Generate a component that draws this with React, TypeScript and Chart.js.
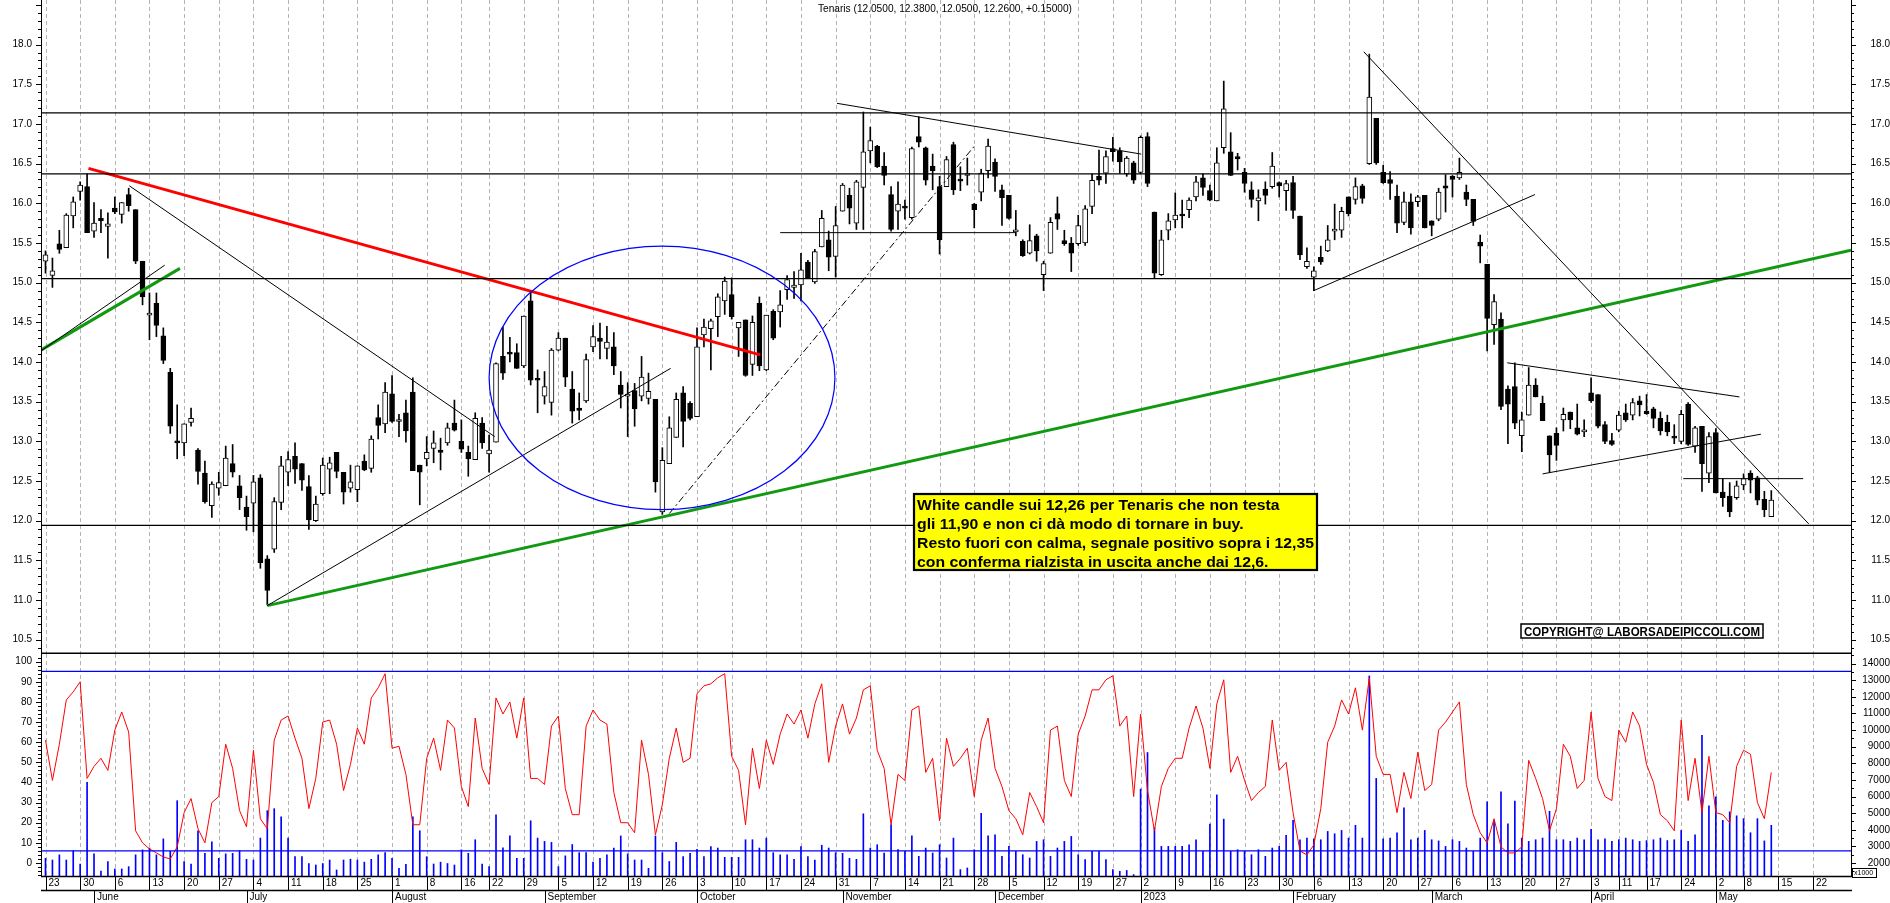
import React, { useEffect, useRef } from 'react';
import { Chart, registerables } from 'chart.js';

Chart.register(...registerables);

const FONT = '"Liberation Sans", Arial, Helvetica, sans-serif';

// ---------- DATA ----------
const OPEN = [
15.27,15.09,15.49,15.44,15.84,16.15,16.21,15.65,15.81,15.71,
15.94,15.86,16.11,15.92,15.27,14.59,14.74,14.33,13.87,13.00,
12.98,13.24,12.89,12.60,12.19,12.41,12.44,12.72,12.44,12.17,
12.22,12.54,11.52,11.64,12.23,12.61,12.81,12.72,12.43,12.00,
12.34,12.65,12.86,12.61,12.41,12.39,12.75,12.66,13.30,13.22,
13.60,13.25,13.36,13.62,12.70,12.78,12.91,12.89,12.98,13.23,
13.00,12.86,12.77,13.23,12.84,12.99,14.07,14.11,14.12,13.95,
14.77,13.79,13.57,13.49,14.15,14.30,13.66,13.42,13.51,14.19,
14.30,14.17,14.19,13.71,13.57,13.64,13.57,13.54,13.53,12.11,
12.72,13.05,13.61,13.48,13.31,14.34,14.42,14.57,14.77,14.85,
14.43,14.53,13.97,14.74,13.90,14.64,14.63,14.91,14.94,14.97,
15.26,15.01,15.45,15.54,15.33,15.90,16.10,15.75,16.20,16.66,
16.72,16.47,16.11,15.90,15.96,15.82,16.84,16.70,16.47,16.21,
16.21,16.74,16.30,16.35,15.99,16.14,16.41,16.52,16.17,16.10,
15.64,15.52,15.37,15.59,15.10,15.37,15.87,15.53,15.50,15.49,
15.50,15.96,16.34,16.38,16.69,16.66,16.37,16.51,16.39,16.84,
15.89,15.10,15.66,15.79,15.85,15.92,16.08,16.32,16.16,16.03,
16.70,16.65,16.59,16.39,16.17,16.03,16.18,16.21,16.26,16.16,
16.26,15.84,15.20,15.07,15.32,15.40,15.65,15.66,16.08,16.05,
16.22,16.50,17.07,16.39,16.30,16.09,15.76,16.02,16.02,16.10,
15.78,15.80,16.22,16.34,16.32,16.14,16.05,15.51,15.23,14.47,
14.54,13.66,13.69,13.07,13.33,13.71,13.48,13.07,13.10,13.27,
13.37,13.17,13.12,13.61,13.59,13.21,13.01,13.14,13.36,13.33,
13.51,13.38,13.41,13.29,13.24,13.06,13.00,13.47,12.94,13.19,
12.60,13.11,12.36,12.31,12.29,12.45,12.60,12.54,12.27,12.05
];
const HIGH = [
15.40,15.31,15.66,15.87,16.08,16.27,16.37,16.01,15.92,15.88,
16.08,16.01,16.19,15.92,15.27,14.87,14.87,14.43,13.92,13.46,
13.22,13.42,12.91,12.75,12.49,12.61,12.94,12.96,12.57,12.31,
12.57,12.58,11.56,12.29,12.81,12.87,12.98,12.72,12.57,12.31,
12.79,12.80,12.86,12.61,12.70,12.69,12.83,13.07,13.46,13.74,
13.83,13.34,13.52,13.80,12.70,13.06,13.13,13.04,13.23,13.52,
13.27,12.94,13.36,13.30,13.08,13.99,14.44,14.31,14.23,14.58,
14.88,13.90,13.88,14.17,14.37,14.30,13.88,13.61,14.10,14.46,
14.49,14.45,14.37,13.88,13.74,13.73,14.07,13.86,13.53,12.92,
13.31,13.61,13.69,13.50,14.43,14.54,14.54,14.86,15.07,15.06,
14.50,14.53,14.58,14.82,14.59,14.66,14.90,15.09,15.14,15.37,
15.28,15.42,15.91,15.65,15.96,16.25,16.19,16.29,17.15,16.96,
16.73,16.64,16.21,16.27,16.04,16.71,17.09,16.71,16.62,16.34,
16.59,16.77,16.46,16.57,16.00,16.43,16.81,16.56,16.23,16.10,
15.91,15.54,15.73,15.61,15.27,15.82,16.08,15.66,15.57,15.85,
15.97,16.37,16.67,16.66,16.83,16.70,16.59,16.53,16.85,16.89,
15.89,15.66,15.87,16.13,16.04,16.07,16.34,16.37,16.23,16.70,
17.54,16.89,16.63,16.44,16.27,16.17,16.27,16.64,16.27,16.29,
16.34,15.84,15.44,15.20,15.46,15.72,15.99,15.95,16.08,16.32,
16.24,17.88,17.07,16.48,16.40,16.23,16.14,16.12,16.10,16.10,
15.78,16.19,16.36,16.35,16.57,16.23,16.05,15.60,15.23,14.85,
14.62,13.70,13.99,13.37,13.93,13.79,13.57,13.07,13.17,13.42,
13.37,13.47,13.27,13.80,13.59,13.25,13.10,13.38,13.47,13.54,
13.57,13.59,13.43,13.37,13.33,13.21,13.39,13.49,13.19,13.19,
13.11,13.16,12.53,12.48,12.50,12.59,12.63,12.56,12.37,12.38
];
const LOW = [
15.12,14.94,15.37,15.44,15.69,16.04,15.63,15.57,15.63,15.31,
15.87,15.75,15.90,15.24,14.72,14.28,14.32,13.98,13.10,12.78,
12.82,13.19,12.46,12.22,12.04,12.32,12.44,12.55,12.14,11.88,
11.86,11.40,10.94,11.60,12.14,12.44,12.47,12.38,11.89,11.99,
12.32,12.34,12.54,12.21,12.36,12.24,12.63,12.61,13.03,13.11,
13.24,13.06,12.99,12.63,12.20,12.69,12.73,12.64,12.95,13.13,
12.86,12.56,12.77,12.91,12.61,12.99,13.78,14.00,13.92,13.93,
13.71,13.36,13.47,13.33,14.14,13.69,13.23,13.27,13.49,14.13,
14.04,14.04,13.84,13.42,13.06,13.19,13.51,13.47,12.36,12.08,
12.72,13.05,12.93,13.27,13.31,14.19,13.90,14.32,14.60,14.54,
14.07,13.82,13.83,13.89,13.89,14.28,14.44,14.79,14.80,14.77,
15.05,14.99,15.45,15.15,15.07,15.90,15.74,15.67,15.67,16.51,
16.45,16.23,15.65,15.67,15.80,15.80,16.71,16.23,16.17,15.36,
16.21,16.11,16.16,16.23,15.69,16.03,16.32,16.15,15.72,15.80,
15.59,15.33,15.36,15.27,14.90,15.37,15.67,15.47,15.14,15.47,
15.47,15.87,16.23,16.25,16.53,16.38,16.34,16.25,16.37,16.21,
15.06,15.09,15.54,15.69,15.69,15.82,16.03,16.10,16.03,16.03,
16.63,16.35,16.42,16.14,15.95,15.78,15.99,16.19,16.08,15.91,
15.81,15.29,15.18,14.90,15.23,15.39,15.54,15.57,15.84,15.99,
16.00,16.49,16.49,16.25,16.05,15.63,15.73,15.61,15.96,15.69,
15.59,15.78,15.89,16.08,16.30,15.97,15.72,15.25,14.14,14.22,
13.40,12.97,13.16,12.87,13.33,13.56,13.26,12.61,12.76,13.13,
13.16,13.08,13.06,13.49,13.17,12.97,12.95,13.12,13.25,13.27,
13.32,13.34,13.17,13.08,13.07,12.97,12.97,12.95,12.86,12.37,
12.48,12.35,12.18,12.05,12.27,12.39,12.35,12.20,12.05,12.05
];
const CLOSE = [
15.35,15.15,15.42,15.85,16.02,16.23,15.63,15.75,15.78,15.74,
15.89,16.01,15.97,15.27,14.82,14.59,14.46,14.02,13.19,12.98,
13.22,13.29,12.62,12.24,12.46,12.48,12.79,12.61,12.29,12.05,
12.49,11.47,11.12,12.24,12.69,12.77,12.65,12.51,12.01,12.21,
12.70,12.73,12.62,12.36,12.49,12.69,12.64,13.03,13.20,13.62,
13.25,13.27,13.13,12.63,12.61,12.86,12.98,12.86,13.17,13.14,
12.90,12.78,13.29,12.98,12.89,13.98,13.86,14.10,13.92,14.58,
13.77,13.77,13.69,14.15,14.30,13.81,13.38,13.39,14.03,14.32,
14.26,14.25,13.95,13.59,13.57,13.41,13.81,13.63,12.49,12.76,
13.17,13.53,13.25,13.29,14.19,14.44,14.52,14.82,15.02,14.57,
14.50,13.83,14.50,13.95,14.59,14.30,14.72,15.04,14.97,15.16,
15.05,15.39,15.81,15.32,15.72,16.23,15.94,16.27,16.65,16.79,
16.46,16.35,15.67,15.99,15.94,16.69,16.77,16.29,16.41,15.54,
16.55,16.17,16.28,16.37,15.92,16.38,16.72,16.34,16.07,15.81,
15.66,15.34,15.53,15.40,15.24,15.76,15.80,15.49,15.37,15.72,
15.93,16.29,16.29,16.59,16.65,16.52,16.57,16.29,16.83,16.25,
15.12,15.54,15.78,15.85,15.84,16.04,16.27,16.20,16.04,16.51,
17.19,16.35,16.56,16.25,16.05,16.07,16.10,16.47,16.22,16.25,
15.91,15.35,15.27,15.15,15.26,15.54,15.66,15.90,15.87,16.21,
16.06,17.34,16.51,16.26,16.25,15.75,16.02,15.69,16.08,15.69,
15.72,16.14,16.19,16.30,16.39,16.05,15.77,15.46,14.55,14.76,
13.44,13.47,13.23,13.27,13.71,13.56,13.26,12.83,12.95,13.34,
13.27,13.09,13.12,13.51,13.19,13.00,12.96,13.33,13.27,13.49,
13.46,13.35,13.29,13.13,13.12,13.04,13.34,12.96,13.17,12.72,
13.06,12.35,12.29,12.11,12.44,12.53,12.51,12.26,12.14,12.26
];
const OSC = [
61,41,59,81,85,90,42,48,52,46,
66,75,65,16,10,7,5,3,2,8,
25,32,17,10,30,33,59,47,26,18,
56,22,17,61,71,73,62,52,27,42,
70,71,59,36,49,67,59,82,87,94,
57,58,44,19,19,52,62,46,71,67,
38,28,72,47,39,82,74,80,62,82,
42,42,39,68,73,37,24,24,68,76,
71,69,35,20,20,15,61,44,14,29,
52,67,50,52,84,88,89,92,94,53,
46,19,57,37,61,49,64,74,69,76,
62,79,89,50,68,79,64,72,86,88,
56,47,19,44,41,76,78,45,52,21,
62,48,52,57,33,61,72,47,38,26,
22,14,35,28,20,66,68,41,33,64,
73,86,86,91,93,68,73,33,74,36,
16,38,47,52,52,67,78,67,47,79,
91,45,53,41,31,35,38,71,46,50,
25,6,4,9,27,60,68,81,74,87,
66,92,53,44,44,25,45,32,55,36,
39,66,70,75,80,39,24,15,10,22,
8,5,5,8,51,42,32,16,27,59,
53,37,41,75,42,33,31,66,60,75,
68,49,40,24,21,16,71,31,52,25,
53,25,24,20,48,56,54,30,22,45
];
const VOL = [
2280,2180,2490,2180,2740,1940,6850,2550,1520,2090,
1640,1640,1780,2490,2790,2900,2490,3450,2700,5750,
2090,1940,3940,2580,3280,2280,2550,2580,2740,2220,
2180,3500,5150,5270,4780,3500,2380,2380,1970,1880,
1970,2180,1580,2180,2230,2180,2050,2220,2490,2620,
2280,1680,1920,4780,3940,2380,1940,2050,1970,1880,
2790,2580,3400,1940,1780,4900,2920,3630,2280,2280,
4540,3500,3300,3240,1780,2430,3110,2620,2620,2050,
2280,2490,2900,3630,2550,2180,2180,1680,3630,2620,
2090,3240,2380,2580,2820,2380,2990,2900,2340,2340,
2340,3400,3400,2900,3500,2620,2490,2490,2220,2990,
2380,2180,3070,2900,2620,2580,2280,2220,4960,2900,
3100,2600,4300,2800,2700,3630,2400,2900,2600,3100,
2300,3500,1600,1700,2800,4990,3630,3700,2400,3000,
2700,2500,2300,3300,3400,2400,2900,3300,3600,2500,
2200,2700,2700,2200,1600,1500,1550,1300,6450,8650,
4120,3000,3000,3000,3000,3100,3400,2700,4340,6100,
4640,2700,2800,2700,2500,2800,2400,2900,3000,3660,
4570,3400,3500,3450,3400,3900,3760,3960,3500,4270,
3500,13260,7090,3450,3500,3820,5320,3400,3500,3960,
3400,3330,3000,3400,3300,2900,2700,3500,5680,4550,
6290,4360,5720,3500,3300,3400,3500,5110,3400,3400,
3300,3500,3400,4020,3400,3450,3300,3400,3500,3400,
3300,3350,3400,3500,3350,3400,3960,3300,3700,9680,
5440,5990,4570,5080,4840,4670,3820,4670,3330,4270
];

const WEEK_IDX = [0,5,10,15,20,25,30,35,40,45,50,55,60,64,69,74,79,84,89,94,99,104,109,114,119,124,129,134,139,144,149,154,158,163,168,173,178,183,188,193,198,203,208,213,218,223,227,231,236,241,245,250,255];
const WEEK_LABELS = ["23","30","6","13","20","27","4","11","18","25","1","8","16","22","29","5","12","19","26","3","10","17","24","31","7","14","21","28","5","12","19","27","2","9","16","23","30","6","13","20","27","6","13","20","27","3","11","17","24","2","8","15","22"];
const MONTH_IDX = [7,29,50,72,94,115,137,158,180,200,223,241];
const MONTH_LABELS = ["June","July","August","September","October","November","December","2023","February","March","April","May"];

const PRICE_TICKS = [10.5,11,11.5,12,12.5,13,13.5,14,14.5,15,15.5,16,16.5,17,17.5,18];
const OSC_TICKS = [0,10,20,30,40,50,60,70,80,90,100];
const VOL_TICKS = [2000,3000,4000,5000,6000,7000,8000,9000,10000,11000,12000,13000,14000];

const LEVELS = [17.14, 16.37, 15.05, 11.94];
const OSC_LEVELS = [95.2, 6.0];

const RED_TREND = [[6.2, 16.44], [103.1, 14.09]];
const GREEN_SHORT = [[-0.65, 14.15], [19.4, 15.18]];
const GREEN_LONG = [[32, 10.93], [260.5, 15.41]];
const BLACK_TRENDS = [
  [[-0.65, 14.14], [17.2, 15.22]],
  [[32, 10.93], [90.2, 13.92]],
  [[12.1, 16.22], [64.8, 13.06]],
  [[114.2, 17.26], [158.1, 16.62]],
  [[106, 15.63], [140, 15.63]],
  [[183, 14.90], [214.9, 16.11]],
  [[190.2, 17.91], [254.4, 11.96]],
  [[210.9, 13.99], [244.4, 13.56]],
  [[216, 12.59], [247.5, 13.09]],
  [[236.3, 12.53], [253.6, 12.53]],
];
const DASH_TREND = [[90, 12.09], [134.2, 16.74]];
const ELLIPSE_CENTER = [88.95, 13.80];
const ELLIPSE_RADIUS = [24.95, 1.66];

const TITLE = 'Tenaris (12.0500, 12.3800, 12.0500, 12.2600, +0.15000)';
const NOTE_LINES = [
  'White candle sui 12,26 per Tenaris che non testa',
  'gli 11,90 e non ci dà modo di tornare in buy.',
  'Resto fuori con calma, segnale positivo sopra i 12,35',
  'con conferma rialzista in uscita anche dai 12,6.',
];
const COPYRIGHT = 'COPYRIGHT@ LABORSADEIPICCOLI.COM';

// ---------- LAYOUT ----------
const W = 1890;
const TOP_H = 654;
const BOT_H = 249;
const LEFT_W = 41;
const RIGHT_W = W - 1851;
const X_MIN = -0.65, X_MAX = 260.5;
const P_MIN = 10.32, P_MAX = 18.562;
const O_MIN = -6.46, O_MAX = 103.8;
const V_MIN = 2000 + O_MIN * 121.2, V_MAX = 2000 + O_MAX * 121.2;

const tickFont = { family: FONT, size: 10 };

function fixY(width: number) {
  return (s: any) => { s.width = width; s.paddingTop = 0; s.paddingBottom = 0; };
}

function lineDs(pts: number[][], color: string, width: number, dash: number[] = [], yAxisID = 'y') {
  return {
    type: 'line',
    data: pts.map(([x, y]) => ({ x, y })),
    borderColor: color,
    borderWidth: width,
    borderDash: dash,
    pointRadius: 0,
    fill: false,
    tension: 0,
    order: 0,
    yAxisID,
  };
}

function fitText(ctx: CanvasRenderingContext2D, text: string, x: number, y: number, sx: number) {
  ctx.save();
  ctx.translate(x, y);
  ctx.scale(sx, 1);
  ctx.fillText(text, 0, 0);
  ctx.restore();
}

const topPlugin = {
  id: 'topDecor',
  beforeDatasetsDraw(chart: any) {
    const { ctx, chartArea: a, scales } = chart;
    const x = scales.x;
    ctx.save();
    ctx.strokeStyle = '#b4b4b4';
    ctx.lineWidth = 1;
    ctx.setLineDash([4, 3]);
    for (const v of WEEK_IDX) {
      const px = Math.round(x.getPixelForValue(v)) + 0.5;
      ctx.beginPath(); ctx.moveTo(px, a.top); ctx.lineTo(px, a.bottom); ctx.stroke();
    }
    ctx.restore();
  },
  afterDatasetsDraw(chart: any) {
    const { ctx, chartArea: a, scales } = chart;
    const x = scales.x, y = scales.y;
    ctx.save();
    ctx.beginPath(); ctx.rect(a.left, a.top, a.right - a.left, a.bottom - a.top); ctx.clip();
    // ellipse
    const cx = x.getPixelForValue(ELLIPSE_CENTER[0]);
    const cy = y.getPixelForValue(ELLIPSE_CENTER[1]);
    const rx = x.getPixelForValue(ELLIPSE_CENTER[0] + ELLIPSE_RADIUS[0]) - cx;
    const ry = cy - y.getPixelForValue(ELLIPSE_CENTER[1] + ELLIPSE_RADIUS[1]);
    ctx.strokeStyle = '#0000ff'; ctx.lineWidth = 1.2;
    ctx.beginPath(); ctx.ellipse(cx, cy, rx, ry, 0, 0, Math.PI * 2); ctx.stroke();
    ctx.restore();

    // note box
    ctx.save();
    const bx = 914, by = 494, bw = 403, bh = 76;
    ctx.fillStyle = '#ffff00'; ctx.fillRect(bx, by, bw, bh);
    ctx.strokeStyle = '#000'; ctx.lineWidth = 2.2; ctx.strokeRect(bx, by, bw, bh);
    ctx.fillStyle = '#000';
    ctx.font = `bold 15.5px ${FONT}`;
    ctx.textBaseline = 'alphabetic';
    ctx.textAlign = 'left';
    const widest = Math.max(...NOTE_LINES.map((t) => ctx.measureText(t).width));
    const sx = 397 / widest;
    NOTE_LINES.forEach((t, i) => fitText(ctx, t, bx + 3, 510 + i * 19, sx));
    ctx.restore();

    // copyright
    ctx.save();
    ctx.fillStyle = '#fff';
    ctx.fillRect(1521, 624, 242, 14);
    ctx.strokeStyle = '#000'; ctx.lineWidth = 1.5; ctx.strokeRect(1521, 624, 242, 14);
    ctx.fillStyle = '#000';
    ctx.font = `bold 12px ${FONT}`;
    ctx.textBaseline = 'alphabetic';
    const cw = ctx.measureText(COPYRIGHT).width;
    fitText(ctx, COPYRIGHT, 1524, 635.5, 236 / cw);
    ctx.restore();
  },
  afterDraw(chart: any) {
    const { ctx, chartArea: a, scales } = chart;
    const y = scales.y;
    ctx.save();
    // title
    ctx.fillStyle = '#000';
    ctx.font = `10.5px ${FONT}`;
    ctx.textBaseline = 'middle';
    const tw = ctx.measureText(TITLE).width;
    fitText(ctx, TITLE, 945 - 127, 9, 254 / tw);
    // axis lines
    ctx.strokeStyle = '#000';
    ctx.lineWidth = 1;
    ctx.beginPath();
    ctx.moveTo(a.left + 0.5, 0); ctx.lineTo(a.left + 0.5, a.bottom);
    ctx.moveTo(a.right + 0.5, 0); ctx.lineTo(a.right + 0.5, a.bottom);
    ctx.stroke();
    // minor ticks
    ctx.beginPath();
    for (let k = 104; k <= 185; k++) {
      const py = Math.round(y.getPixelForValue(k / 10)) + 0.5;
      const len = k % 5 === 0 ? 5 : 3;
      ctx.moveTo(a.left, py); ctx.lineTo(a.left - len, py);
      ctx.moveTo(a.right, py); ctx.lineTo(a.right + len, py);
    }
    ctx.stroke();
    // divider
    ctx.lineWidth = 1.6;
    ctx.beginPath(); ctx.moveTo(a.left, a.bottom - 0.8); ctx.lineTo(a.right + 1, a.bottom - 0.8); ctx.stroke();
    ctx.restore();
  },
};

const botPlugin = {
  id: 'botDecor',
  beforeDatasetsDraw(chart: any) {
    const { ctx, chartArea: a, scales } = chart;
    const x = scales.x;
    ctx.save();
    ctx.strokeStyle = '#b4b4b4';
    ctx.lineWidth = 1;
    ctx.setLineDash([4, 3]);
    for (const v of WEEK_IDX) {
      const px = Math.round(x.getPixelForValue(v)) + 0.5;
      ctx.beginPath(); ctx.moveTo(px, a.top); ctx.lineTo(px, a.bottom); ctx.stroke();
    }
    ctx.restore();
  },
  afterDraw(chart: any) {
    const { ctx, chartArea: a, scales } = chart;
    const x = scales.x, yo = scales.yo, yv = scales.yv;
    ctx.save();
    ctx.strokeStyle = '#000';
    ctx.lineWidth = 1;
    ctx.beginPath();
    ctx.moveTo(a.left + 0.5, 0); ctx.lineTo(a.left + 0.5, a.bottom);
    ctx.moveTo(a.right + 0.5, 0); ctx.lineTo(a.right + 0.5, a.bottom);
    ctx.stroke();
    ctx.beginPath();
    for (let v = -6; v <= 102; v += 2) {
      const py = Math.round(yo.getPixelForValue(v)) + 0.5;
      ctx.moveTo(a.left, py); ctx.lineTo(a.left - (v % 10 === 0 ? 5 : 3), py);
    }
    for (let v = 1500; v <= 14500; v += 500) {
      const py = Math.round(yv.getPixelForValue(v)) + 0.5;
      ctx.moveTo(a.right, py); ctx.lineTo(a.right + (v % 1000 === 0 ? 5 : 3), py);
    }
    ctx.stroke();
    // x axis rows
    const rowTop = a.bottom, rowMid = a.bottom + 14, rowBot = BOT_H;
    ctx.lineWidth = 1.3;
    ctx.beginPath();
    ctx.moveTo(a.left, rowTop + 0.5); ctx.lineTo(a.right + 1, rowTop + 0.5);
    ctx.moveTo(a.left, rowMid + 0.5); ctx.lineTo(a.right + 1, rowMid + 0.5);
    ctx.stroke();
    ctx.lineWidth = 1;
    ctx.beginPath();
    for (const v of WEEK_IDX) {
      const px = Math.round(x.getPixelForValue(v)) + 0.5;
      ctx.moveTo(px, rowTop); ctx.lineTo(px, rowMid);
    }
    for (const v of MONTH_IDX) {
      const px = Math.round(x.getPixelForValue(v)) + 0.5;
      ctx.moveTo(px, rowMid); ctx.lineTo(px, rowBot);
    }
    ctx.stroke();
    // x1000 marker
    ctx.strokeRect(1852.5, 214.5, 24, 9);
    ctx.fillStyle = '#000';
    ctx.font = `7px ${FONT}`;
    ctx.textBaseline = 'middle';
    ctx.fillText('x1000', 1854, 219.5);
    ctx.restore();
  },
};

function topConfig(): any {
  return {
    type: 'bar',
    data: {
      datasets: [
        {
          type: 'bar',
          data: LOW.map((l, i) => ({ x: i, y: [l, HIGH[i]] })),
          backgroundColor: '#000',
          barThickness: 1,
          grouped: false,
          order: 10,
          yAxisID: 'y',
        },
        {
          type: 'bar',
          data: OPEN.map((o, i) => ({ x: i, y: [o, CLOSE[i]] })),
          backgroundColor: OPEN.map((o, i) => (CLOSE[i] >= o ? '#ffffff' : '#000000')),
          borderColor: '#000',
          borderWidth: 1,
          borderSkipped: false,
          barThickness: 5,
          minBarLength: 2,
          grouped: false,
          order: 9,
          yAxisID: 'y',
        },
        ...LEVELS.map((lv) => lineDs([[X_MIN, lv], [X_MAX, lv]], '#000', 1.3)),
        ...BLACK_TRENDS.map((t) => lineDs(t, '#000', 1)),
        lineDs(DASH_TREND, '#000', 1, [7, 3, 2, 3]),
        lineDs(RED_TREND, '#ff0000', 3),
        lineDs(GREEN_SHORT, '#119911', 3),
        lineDs(GREEN_LONG, '#119911', 3),
      ],
    },
    options: {
      animation: false,
      responsive: false,
      maintainAspectRatio: false,
      events: [],
      layout: { padding: 0 },
      plugins: { legend: { display: false }, tooltip: { enabled: false }, title: { display: false } },
      scales: {
        x: {
          type: 'linear', min: X_MIN, max: X_MAX, offset: false, display: false,
        },
        y: {
          type: 'linear', position: 'left', min: P_MIN, max: P_MAX,
          afterBuildTicks: (s: any) => { s.ticks = PRICE_TICKS.map((v) => ({ value: v })); },
          afterFit: fixY(LEFT_W),
          grid: { display: false, drawTicks: false },
          border: { display: false },
          ticks: { autoSkip: false, padding: 9, color: '#000', font: tickFont, callback: (v: any) => Number(v).toFixed(1) },
        },
        yr: {
          type: 'linear', position: 'right', min: P_MIN, max: P_MAX,
          afterBuildTicks: (s: any) => { s.ticks = PRICE_TICKS.map((v) => ({ value: v })); },
          afterFit: fixY(RIGHT_W),
          grid: { display: false, drawTicks: false },
          border: { display: false },
          ticks: { autoSkip: false, padding: 17, crossAlign: 'far', color: '#000', font: tickFont, callback: (v: any) => Number(v).toFixed(1) },
        },
      },
    },
    plugins: [topPlugin],
  };
}

function botConfig(): any {
  return {
    type: 'bar',
    data: {
      datasets: [
        {
          type: 'bar',
          data: VOL.map((v, i) => ({ x: i, y: v })),
          base: V_MIN,
          backgroundColor: '#0000ff',
          barThickness: 1,
          grouped: false,
          order: 10,
          yAxisID: 'yv',
        },
        ...OSC_LEVELS.map((lv) => lineDs([[X_MIN, lv], [X_MAX, lv]], '#0000ff', 1.3, [], 'yo')),
        {
          type: 'line',
          data: OSC.map((v, i) => ({ x: i, y: v })),
          borderColor: '#ff0000',
          borderWidth: 1,
          pointRadius: 0,
          fill: false,
          tension: 0,
          order: 0,
          yAxisID: 'yo',
        },
      ],
    },
    options: {
      animation: false,
      responsive: false,
      maintainAspectRatio: false,
      events: [],
      layout: { padding: 0 },
      plugins: { legend: { display: false }, tooltip: { enabled: false }, title: { display: false } },
      scales: {
        x: {
          type: 'linear', position: 'bottom', min: X_MIN, max: X_MAX, offset: false,
          afterBuildTicks: (s: any) => { s.ticks = WEEK_IDX.map((v) => ({ value: v })); },
          afterFit: (s: any) => { s.height = 14; s.paddingLeft = 0; s.paddingRight = 0; },
          grid: { display: false, drawTicks: false },
          border: { display: false },
          ticks: {
            autoSkip: false, maxRotation: 0, minRotation: 0, align: 'start', labelOffset: 3, padding: 1,
            color: '#000', font: tickFont, callback: (_v: any, i: number) => WEEK_LABELS[i],
          },
        },
        xm: {
          type: 'linear', position: 'bottom', min: X_MIN, max: X_MAX, offset: false,
          afterBuildTicks: (s: any) => { s.ticks = MONTH_IDX.map((v) => ({ value: v })); },
          afterFit: (s: any) => { s.height = 13; s.paddingLeft = 0; s.paddingRight = 0; },
          grid: { display: false, drawTicks: false },
          border: { display: false },
          ticks: {
            autoSkip: false, maxRotation: 0, minRotation: 0, align: 'start', labelOffset: 3, padding: 1,
            color: '#000', font: tickFont, callback: (_v: any, i: number) => MONTH_LABELS[i],
          },
        },
        yo: {
          type: 'linear', position: 'left', min: O_MIN, max: O_MAX,
          afterBuildTicks: (s: any) => { s.ticks = OSC_TICKS.map((v) => ({ value: v })); },
          afterFit: fixY(LEFT_W),
          grid: { display: false, drawTicks: false },
          border: { display: false },
          ticks: { autoSkip: false, padding: 9, color: '#000', font: tickFont, callback: (v: any) => String(v) },
        },
        yv: {
          type: 'linear', position: 'right', min: V_MIN, max: V_MAX,
          afterBuildTicks: (s: any) => { s.ticks = VOL_TICKS.map((v) => ({ value: v })); },
          afterFit: fixY(RIGHT_W),
          grid: { display: false, drawTicks: false },
          border: { display: false },
          ticks: { autoSkip: false, padding: 8, crossAlign: 'far', color: '#000', font: tickFont, callback: (v: any) => String(v) },
        },
      },
    },
    plugins: [botPlugin],
  };
}

export default function App() {
  const topRef = useRef<HTMLCanvasElement>(null);
  const botRef = useRef<HTMLCanvasElement>(null);
  useEffect(() => {
    document.body.style.margin = '0';
    const c1 = new Chart(topRef.current as HTMLCanvasElement, topConfig());
    const c2 = new Chart(botRef.current as HTMLCanvasElement, botConfig());
    return () => { c1.destroy(); c2.destroy(); };
  }, []);
  return (
    <div style={{ position: 'relative', width: W, height: TOP_H + BOT_H, background: '#fff', overflow: 'hidden' }}>
      <canvas ref={topRef} width={W} height={TOP_H} style={{ position: 'absolute', left: 0, top: 0, width: W, height: TOP_H }} />
      <canvas ref={botRef} width={W} height={BOT_H} style={{ position: 'absolute', left: 0, top: TOP_H, width: W, height: BOT_H }} />
    </div>
  );
}
